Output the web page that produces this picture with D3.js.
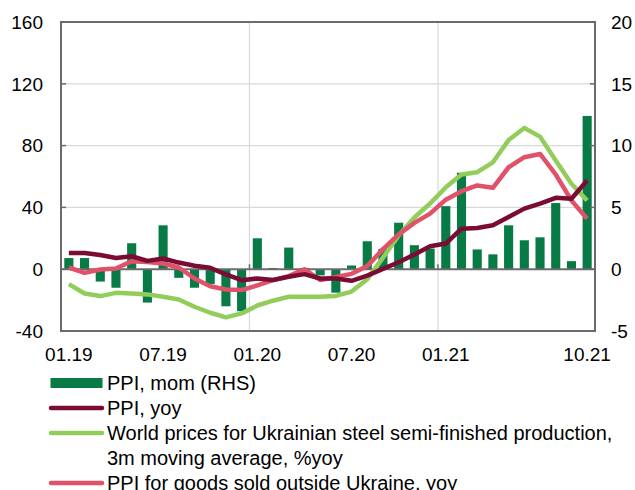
<!DOCTYPE html>
<html>
<head>
<meta charset="utf-8">
<script src="https://cdn.jsdelivr.net/npm/d3@7"></script>
<style>
  body { margin: 0; background: #fff; }
  text { font-family: "Liberation Sans", Arial, sans-serif; fill: #000; }
</style>
</head>
<body>
<svg id="chart" width="635" height="490"></svg>
<script>
// months 01.19 .. 10.21
var months = [];
for (var y = 19; y <= 21; y++) {
  for (var m = 1; m <= 12; m++) {
    if (y === 21 && m > 10) break;
    months.push((m < 10 ? "0" + m : "" + m) + "." + y);
  }
}
var tickLabels = ["01.19", "07.19", "01.20", "07.20", "01.21", "10.21"];
var gridMonths = ["01.20", "01.21"];
var leftTicks = [-40, 0, 40, 80, 120, 160];
var rightTicks = [-5, 0, 5, 10, 15, 20];

// PPI, mom (RHS)
var ppiMom = [0.9, 0.9, -1.0, -1.5, 2.1, -2.7, 3.55, -0.7, -1.5, -1.2, -3.0, -3.4,
  2.5, 0.1, 1.75, 0.1, -0.5, -1.9, 0.3, 2.26, 1.65, 3.76, 1.94, 1.67,
  5.1, 7.8, 1.6, 1.2, 3.55, 2.34, 2.58, 5.35, 0.65, 12.4];
// PPI, yoy
var ppiYoy = [10.5, 10.5, 9.2, 7.3, 8.4, 5.4, 6.9, 4.3, 2.2, 0.9, -3.4, -7.1,
  -6.0, -7.0, -4.9, -3.2, -6.0, -6.0, -7.5, -4.2, 0.2, 4.5, 9.5, 14.8,
  16.6, 26.2, 26.7, 28.4, 33.8, 39.2, 42.4, 46.2, 45.6, 57.4];
// World prices for Ukrainian steel semi-finished production, 3m ma, %yoy
var steel = [-9.7, -15.7, -17.4, -15.3, -15.7, -16.3, -17.8, -19.6, -24.3, -28.2, -31.2, -28.6,
  -23.5, -20.4, -17.8, -17.8, -17.8, -17.3, -14.5, -6.5, 7.5, 21.9, 33.5, 42.5,
  53.0, 61.3, 62.8, 69.2, 83.6, 91.4, 85.8, 70.3, 55.3, 44.5];
// PPI for goods sold outside Ukraine, yoy
var ppiExport = [1.1, -2.4, -0.2, 0.4, 5.2, 4.7, 3.7, 1.1, -6.0, -11.0, -13.1, -13.5,
  -10.5, -7.1, -4.5, 0.0, -7.0, -5.0, -3.0, 2.0, 13.0, 22.5, 30.0, 36.0,
  45.0, 50.5, 54.2, 52.7, 66.0, 72.5, 74.6, 61.3, 44.5, 32.7];

var legendItems = [
  { type: "bar", color: "#077a45", lines: ["PPI, mom (RHS)"] },
  { type: "line", color: "#7a0c33", lines: ["PPI, yoy"] },
  { type: "line", color: "#92cd5c", lines: ["World prices for Ukrainian steel semi-finished production,", "3m moving average, %yoy"] },
  { type: "line", color: "#e0516a", lines: ["PPI for goods sold outside Ukraine, yoy"] }
];

var svg = d3.select("#chart");
var L = 61, R = 595, T = 22, B = 331;

var x = d3.scaleBand().domain(months).range([L, R]).paddingInner(0.42).paddingOuter(0.21);
var xb = d3.scaleBand().domain(months).range([L, R]);
var yL = d3.scaleLinear().domain([-40, 160]).range([B, T]);
var yR = d3.scaleLinear().domain([-5, 20]).range([B, T]);

// gridlines
svg.append("g").selectAll("line.h").data(leftTicks.filter(function(d) { return d !== 0 && d !== 160 && d !== -40; }))
  .enter().append("line")
  .attr("x1", L).attr("x2", R)
  .attr("y1", function(d) { return yL(d); }).attr("y2", function(d) { return yL(d); })
  .attr("stroke", "#d9d9d9").attr("stroke-width", 1.2);
svg.append("g").selectAll("line.v").data(gridMonths)
  .enter().append("line")
  .attr("x1", function(d) { return xb(d); }).attr("x2", function(d) { return xb(d); })
  .attr("y1", T).attr("y2", B)
  .attr("stroke", "#d9d9d9").attr("stroke-width", 1.2);

// bars
svg.append("g").selectAll("rect").data(ppiMom).enter().append("rect")
  .attr("x", function(d, i) { return x(months[i]); })
  .attr("width", x.bandwidth())
  .attr("y", function(d) { return yR(Math.max(0, d)); })
  .attr("height", function(d) { return Math.abs(yR(d) - yR(0)); })
  .attr("fill", "#077a45");

// zero line + ticks
svg.append("line").attr("x1", L).attr("x2", R).attr("y1", yL(0)).attr("y2", yL(0))
  .attr("stroke", "#6b6b6b").attr("stroke-width", 2);
svg.append("g").selectAll("line").data(gridMonths).enter().append("line")
  .attr("x1", function(d) { return xb(d); }).attr("x2", function(d) { return xb(d); })
  .attr("y1", yL(0)).attr("y2", yL(0) - 5)
  .attr("stroke", "#6b6b6b").attr("stroke-width", 1.5);

// lines
var series = [
  { values: steel, color: "#92cd5c" },
  { values: ppiExport, color: "#e0516a" },
  { values: ppiYoy, color: "#7a0c33" }
];
var line = d3.line()
  .x(function(d, i) { return xb(months[i]) + xb.bandwidth() / 2; })
  .y(function(d) { return yL(d); });
svg.append("g").selectAll("path").data(series).enter().append("path")
  .attr("d", function(s) { return line(s.values); })
  .attr("fill", "none")
  .attr("stroke", function(s) { return s.color; })
  .attr("stroke-width", 4.5)
  .attr("stroke-linejoin", "round")
  .attr("stroke-linecap", "butt");

// frame
svg.append("rect").attr("x", L).attr("y", T).attr("width", R - L).attr("height", B - T)
  .attr("fill", "none").attr("stroke", "#6b6b6b").attr("stroke-width", 2);

// left axis
svg.append("g").selectAll("line").data(leftTicks).enter().append("line")
  .attr("x1", L).attr("x2", L + 5)
  .attr("y1", function(d) { return yL(d); }).attr("y2", function(d) { return yL(d); })
  .attr("stroke", "#6b6b6b").attr("stroke-width", 1.5);
svg.append("g").selectAll("text").data(leftTicks).enter().append("text")
  .attr("x", L - 18).attr("y", function(d) { return yL(d); })
  .attr("dy", "0.36em").attr("text-anchor", "end")
  .attr("font-size", 19)
  .text(function(d) { return d; });

// right axis
svg.append("g").selectAll("line").data(rightTicks).enter().append("line")
  .attr("x1", R - 5).attr("x2", R)
  .attr("y1", function(d) { return yR(d); }).attr("y2", function(d) { return yR(d); })
  .attr("stroke", "#6b6b6b").attr("stroke-width", 1.5);
svg.append("g").selectAll("text").data(rightTicks).enter().append("text")
  .attr("x", R + 16).attr("y", function(d) { return yR(d); })
  .attr("dy", "0.36em").attr("text-anchor", "start")
  .attr("font-size", 19)
  .text(function(d) { return d; });

// x labels
svg.append("g").selectAll("text").data(tickLabels).enter().append("text")
  .attr("x", function(d) { return xb(d) + xb.bandwidth() / 2; })
  .attr("y", 361)
  .attr("text-anchor", "middle")
  .attr("font-size", 19)
  .text(function(d) { return d; });

// legend
var rowY = 383;
var lg = svg.append("g");
legendItems.forEach(function(it) {
  if (it.type === "bar") {
    lg.append("rect").attr("x", 50.5).attr("y", rowY - 5).attr("width", 52).attr("height", 10)
      .attr("fill", it.color);
  } else {
    lg.append("line").attr("x1", 51).attr("x2", 102).attr("y1", rowY).attr("y2", rowY)
      .attr("stroke", it.color).attr("stroke-width", 4.5).attr("stroke-linecap", "round");
  }
  it.lines.forEach(function(t, j) {
    lg.append("text").attr("x", 107).attr("y", rowY + j * 25)
      .attr("dy", "0.36em").attr("font-size", 20).text(t);
  });
  rowY += 25 * it.lines.length;
});
</script>
</body>
</html>
